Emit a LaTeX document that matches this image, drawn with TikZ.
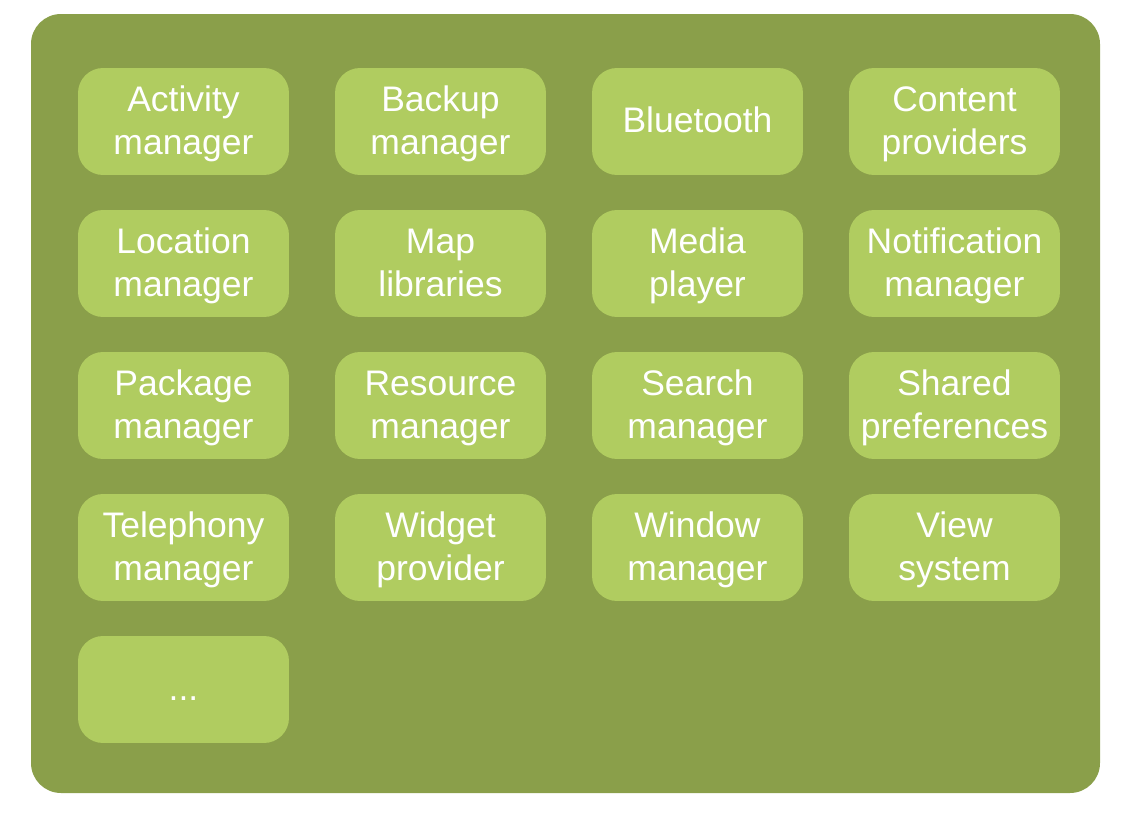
\documentclass[tikz,border=0pt]{standalone}
\usepackage{fontspec}
\setmainfont{Liberation Sans}
\definecolor{panelgreen}{HTML}{8A9F4A}
\definecolor{boxgreen}{HTML}{B0CC60}
% line strut, slightly taller than deep so text sits a bit low in its box
\newcommand{\lstrut}{\rule[-5.5pt]{0pt}{24pt}}
% one or two text lines with even spacing
\newcommand{\twoline}[2]{\lstrut#1\\\lstrut#2}
\begin{document}
\begin{tikzpicture}[x=0.02cm,y=-0.02cm,
  comp/.style={fill=boxgreen, draw=none, rounded corners=0.5cm,
    minimum width=4.22cm, minimum height=2.14cm, inner sep=0pt,
    align=center, text=white,
    font=\fontsize{20.2pt}{24pt}\selectfont}]
  \useasboundingbox (0,0) rectangle (1130,818);
  \fill[panelgreen, rounded corners=0.6cm] (31,14) rectangle (1100,793);
  % column and row centres
  \def\ca{183.5}\def\cb{440.5}\def\cc{697.5}\def\cd{954.5}
  \def\ra{121.5}\def\rb{263.5}\def\rc{405.5}\def\rd{547.5}\def\re{689.5}
  \node[comp] (activity) at (\ca,\ra) {\twoline{Activity}{manager}};
  \node[comp] (backup) at (\cb,\ra) {\twoline{Backup}{manager}};
  \node[comp] (bluetooth) at (\cc,\ra) {\lstrut Bluetooth};
  \node[comp] (content) at (\cd,\ra) {\twoline{Content}{providers}};
  \node[comp] (location) at (\ca,\rb) {\twoline{Location}{manager}};
  \node[comp] (map) at (\cb,\rb) {\twoline{Map}{libraries}};
  \node[comp] (media) at (\cc,\rb) {\twoline{Media}{player}};
  \node[comp] (notification) at (\cd,\rb) {\twoline{Notification}{manager}};
  \node[comp] (package) at (\ca,\rc) {\twoline{Package}{manager}};
  \node[comp] (resource) at (\cb,\rc) {\twoline{Resource}{manager}};
  \node[comp] (search) at (\cc,\rc) {\twoline{Search}{manager}};
  \node[comp] (shared) at (\cd,\rc) {\twoline{Shared}{preferences}};
  \node[comp] (telephony) at (\ca,\rd) {\twoline{Telephony}{manager}};
  \node[comp] (widget) at (\cb,\rd) {\twoline{Widget}{provider}};
  \node[comp] (window) at (\cc,\rd) {\twoline{Window}{manager}};
  \node[comp] (view) at (\cd,\rd) {\twoline{View}{system}};
  \node[comp] (more) at (\ca,\re) {\lstrut ...};
\end{tikzpicture}
\end{document}
